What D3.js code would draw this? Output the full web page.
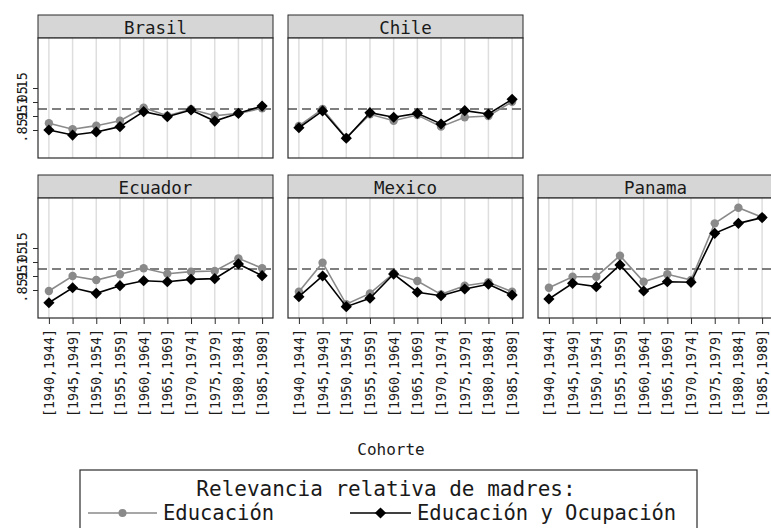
<!DOCTYPE html>
<html><head><meta charset="utf-8">
<script src="https://cdn.jsdelivr.net/npm/d3@7"></script>
<style>
html,body{margin:0;padding:0;background:#fff;}
svg{display:block;}
text{font-family:"DejaVu Sans Mono",monospace;fill:#1a1a1a;}
</style></head>
<body>
<svg id="chart" width="771" height="528"></svg>
<script>
const cohorts = ["[1940,1944]","[1945,1949]","[1950,1954]","[1955,1959]","[1960,1964]","[1965,1969]","[1970,1974]","[1975,1979]","[1980,1984]","[1985,1989]"];
const countries = ["Brasil","Chile","Ecuador","Mexico","Panama"];
const yTicks = [0.85, 0.95, 1.05, 1.15];
const yTickLabels = [".85", ".95", "1.05", "1.15"];
const refLine = 1;
const seriesNames = ["Educación", "Educación y Ocupación"];
const legendTitle = "Relevancia relativa de madres:";
const xTitle = "Cohorte";

// Educación
const eduBrasil  = [0.898,0.855,0.881,0.916,1.009,0.952,0.998,0.952,0.969,1.005];
const eduChile   = [0.879,1.000,0.795,0.962,0.916,0.957,0.874,0.941,0.950,1.052];
const eduEcuador = [0.843,0.950,0.921,0.962,1.005,0.966,0.981,0.986,1.076,1.005];
const eduMexico  = [0.838,1.045,0.748,0.826,0.969,0.914,0.819,0.881,0.905,0.838];
const eduPanama  = [0.866,0.945,0.945,1.095,0.909,0.962,0.921,1.326,1.438,1.369];
// Educación y Ocupación
const eoBrasil  = [0.850,0.814,0.836,0.874,0.981,0.945,0.993,0.914,0.969,1.021];
const eoChile   = [0.866,0.986,0.791,0.974,0.941,0.969,0.893,0.988,0.964,1.069];
const eoEcuador = [0.759,0.866,0.826,0.881,0.916,0.909,0.926,0.931,1.036,0.952];
const eoMexico  = [0.802,0.950,0.731,0.791,0.964,0.834,0.809,0.857,0.891,0.814];
const eoPanama  = [0.786,0.898,0.874,1.029,0.843,0.909,0.905,1.255,1.326,1.367];

const eduData = [eduBrasil, eduChile, eduEcuador, eduMexico, eduPanama];
const eoData = [eoBrasil, eoChile, eoEcuador, eoMexico, eoPanama];

const svg = d3.select("#chart");
const colLeft = [38, 288, 538];
const panelW = 235;
const rowHeaderTop = [15, 175];
const headerH = 23;
const plotH = 120;
const grayCol = "#8a8a8a";
const frameCol = "#2b2b2b";

const layout = [
  {c:0,r:0},{c:1,r:0},{c:0,r:1},{c:1,r:1},{c:2,r:1}
];

const diamond = d3.symbol().type(d3.symbolDiamond2 || d3.symbolDiamond).size(80);

countries.forEach((name, i) => {
  const L = layout[i];
  const x0 = colLeft[L.c];
  const hTop = rowHeaderTop[L.r];
  const pTop = hTop + headerH;
  const pBot = pTop + plotH;
  const g = svg.append("g");

  const x = d3.scalePoint().domain(cohorts).range([x0, x0 + panelW]).padding(0.46);
  const y = d3.scaleLinear().domain([0.65, 0.65 + plotH/140]).range([pBot, pTop]);

  // header
  g.append("rect").attr("x", x0).attr("y", hTop).attr("width", panelW).attr("height", headerH)
    .attr("fill", "#d6d6d6").attr("stroke", frameCol).attr("stroke-width", 1);
  g.append("text").attr("x", x0 + panelW/2).attr("y", hTop + headerH/2 + 1)
    .attr("text-anchor", "middle").attr("dominant-baseline", "central")
    .attr("font-size", 17.5).text(name);

  // plot background
  g.append("rect").attr("x", x0).attr("y", pTop).attr("width", panelW).attr("height", plotH)
    .attr("fill", "#fff");

  // grid
  g.selectAll(".grid").data(cohorts).enter().append("line")
    .attr("x1", d => x(d)).attr("x2", d => x(d)).attr("y1", pTop).attr("y2", pBot)
    .attr("stroke", "#dedede").attr("stroke-width", 1.5);

  // reference line
  g.append("line").attr("x1", x0).attr("x2", x0 + panelW).attr("y1", y(refLine)).attr("y2", y(refLine))
    .attr("stroke", "#555").attr("stroke-width", 1.3).attr("stroke-dasharray", "9,5");

  // series
  const line = d3.line().x((d, j) => x(cohorts[j])).y(d => y(d));
  g.append("path").datum(eduData[i]).attr("d", line).attr("fill", "none")
    .attr("stroke", grayCol).attr("stroke-width", 1.6);
  g.selectAll(".edu").data(eduData[i]).enter().append("circle")
    .attr("cx", (d, j) => x(cohorts[j])).attr("cy", d => y(d)).attr("r", 4.2).attr("fill", grayCol);
  g.append("path").datum(eoData[i]).attr("d", line).attr("fill", "none")
    .attr("stroke", "#000").attr("stroke-width", 1.6);
  g.selectAll(".eo").data(eoData[i]).enter().append("path")
    .attr("d", diamond).attr("transform", (d, j) => `translate(${x(cohorts[j])},${y(d)})`)
    .attr("fill", "#000");

  // frame
  g.append("rect").attr("x", x0).attr("y", pTop).attr("width", panelW).attr("height", plotH)
    .attr("fill", "none").attr("stroke", frameCol).attr("stroke-width", 1.2);

  // y axis on left column
  if (L.c === 0) {
    const ya = g.append("g").attr("transform", `translate(${x0},0)`)
      .call(d3.axisLeft(y).tickValues(yTicks).tickSize(5).tickFormat((d, k) => yTickLabels[k]));
    ya.select(".domain").remove();
    ya.selectAll("line").attr("stroke", frameCol);
    ya.selectAll("text").attr("font-size", 13.5).attr("fill", "#1a1a1a")
      .attr("font-family", "DejaVu Sans Mono")
      .attr("x", null).attr("dy", null).attr("text-anchor", "middle")
      .attr("dominant-baseline", "central")
      .attr("transform", "translate(-16,0) rotate(-90)");
  }
  // x axis on bottom row
  if (L.r === 1) {
    const xa = g.append("g").attr("transform", `translate(0,${pBot})`)
      .call(d3.axisBottom(x).tickSize(6));
    xa.select(".domain").remove();
    xa.selectAll("line").attr("stroke", frameCol);
    xa.selectAll("text").attr("font-size", 13.3).attr("fill", "#1a1a1a")
      .attr("font-family", "DejaVu Sans Mono")
      .attr("y", null).attr("dy", null).attr("text-anchor", "end")
      .attr("dominant-baseline", "central")
      .attr("transform", "translate(0,11) rotate(-90)");
  }
});

// x title
svg.append("text").attr("x", 391).attr("y", 449).attr("text-anchor", "middle")
  .attr("dominant-baseline", "central").attr("font-size", 16).text(xTitle);

// legend
const lg = svg.append("g");
lg.append("rect").attr("x", 80).attr("y", 470).attr("width", 617).attr("height", 62)
  .attr("fill", "#fff").attr("stroke", frameCol).attr("stroke-width", 1.2);
lg.append("text").attr("x", 386).attr("y", 489).attr("text-anchor", "middle")
  .attr("dominant-baseline", "central").attr("font-size", 21).text(legendTitle);
// item 1
lg.append("line").attr("x1", 88).attr("x2", 157).attr("y1", 513).attr("y2", 513)
  .attr("stroke", grayCol).attr("stroke-width", 1.6);
lg.append("circle").attr("cx", 122.5).attr("cy", 513).attr("r", 4).attr("fill", grayCol);
lg.append("text").attr("x", 163).attr("y", 513).attr("dominant-baseline", "central")
  .attr("font-size", 20.5).text(seriesNames[0]);
// item 2
lg.append("line").attr("x1", 350).attr("x2", 411).attr("y1", 513).attr("y2", 513)
  .attr("stroke", "#000").attr("stroke-width", 1.6);
lg.append("path").attr("d", diamond).attr("transform", "translate(380.5,513)").attr("fill", "#000");
lg.append("text").attr("x", 417).attr("y", 513).attr("dominant-baseline", "central")
  .attr("font-size", 20.5).text(seriesNames[1]);
</script>
</body></html>
